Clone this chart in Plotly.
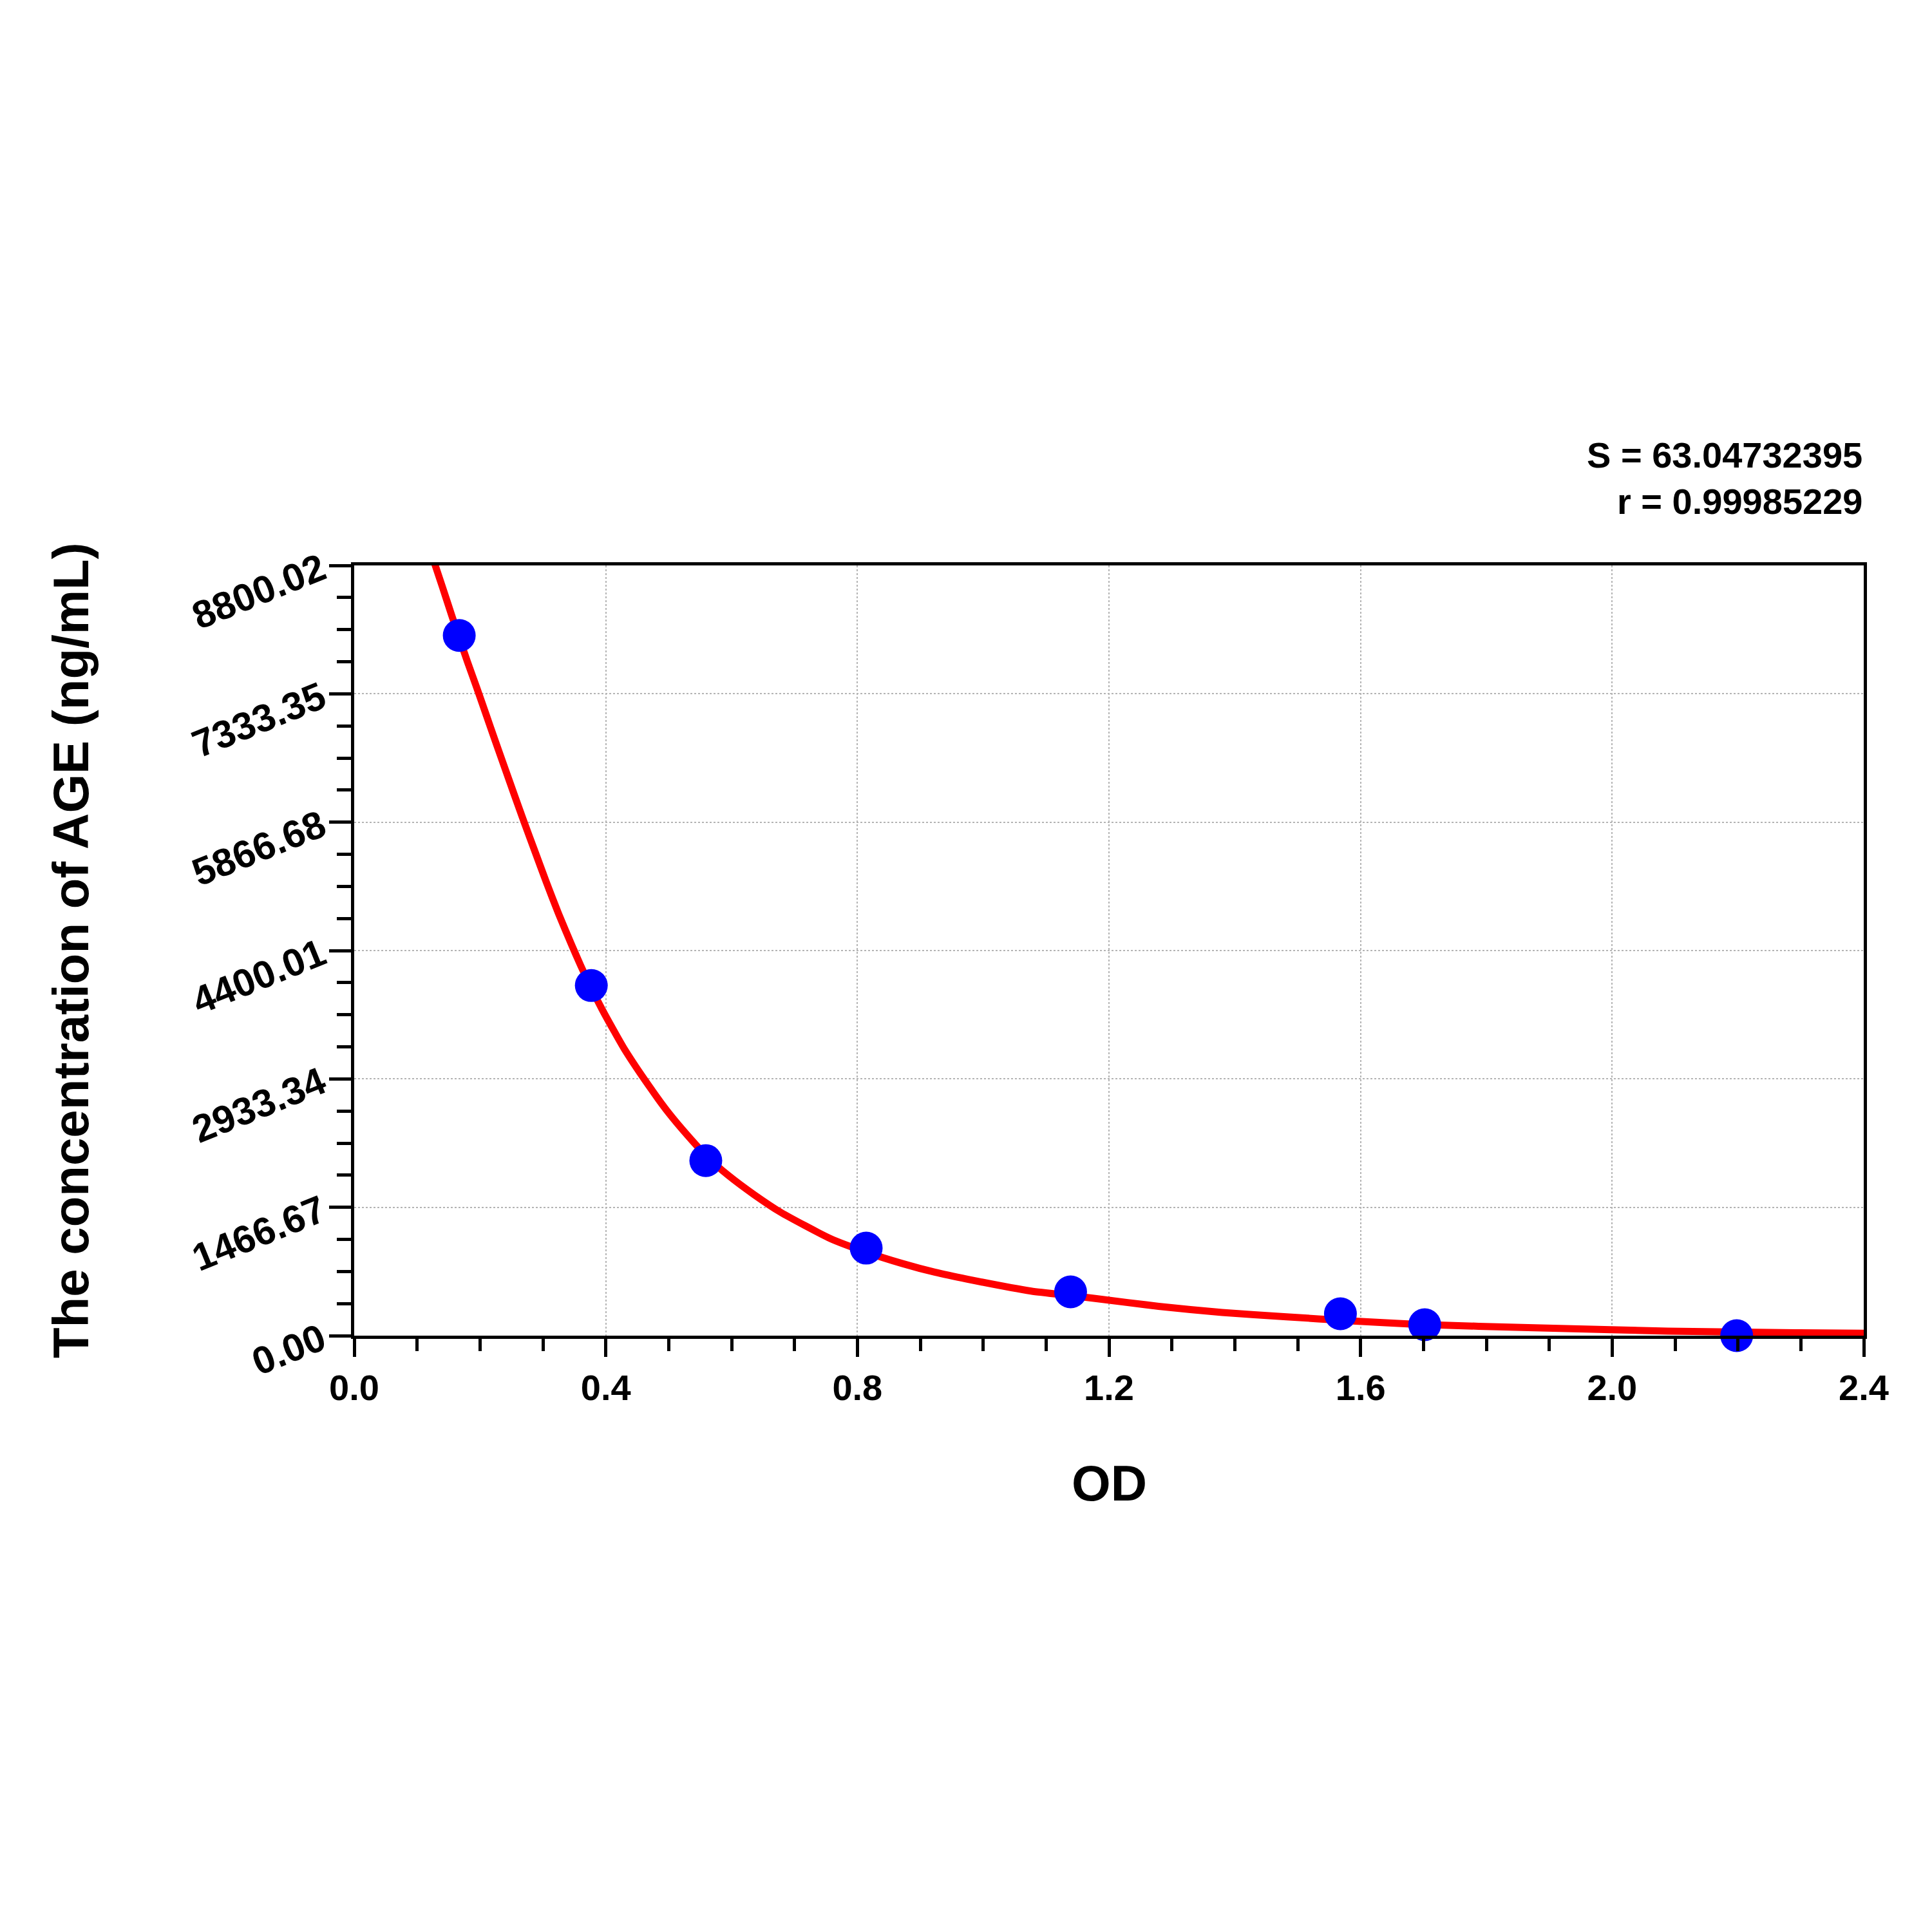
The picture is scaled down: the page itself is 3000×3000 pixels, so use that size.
import plotly.graph_objects as go

# standards (OD vs concentration)
od_points = [0.167, 0.377, 0.559, 0.814, 1.139, 1.568, 1.702, 2.198]
conc_points = [8000, 4000, 2000, 1000, 500, 250, 125, 0]

# fitted curve
curve_od = [0.124, 0.140, 0.155, 0.167, 0.180, 0.195, 0.210, 0.225, 0.240, 0.255,
            0.270, 0.288, 0.305, 0.325, 0.346, 0.360, 0.377, 0.394, 0.414, 0.430,
            0.469, 0.500, 0.531, 0.563, 0.595, 0.636, 0.678, 0.757, 0.814, 0.871,
            0.923, 0.975, 1.076, 1.139, 1.178, 1.279, 1.380, 1.482, 1.583, 1.685,
            1.886, 2.089, 2.292, 2.402]
curve_conc = [8905, 8560, 8230, 7975, 7700, 7400, 7090, 6780, 6475, 6170,
              5870, 5520, 5190, 4820, 4460, 4230, 3970, 3730, 3470, 3270,
              2850, 2545, 2280, 2030, 1830, 1610, 1410, 1110, 955, 825,
              725, 645, 510, 458, 425, 335, 265, 215, 170, 130,
              88, 52, 33, 27]

fit_text = ['S = 63.04732395', 'r = 0.99985229']

font_family = 'Arial, Liberation Sans, sans-serif'

curve = go.Scatter(
    x=curve_od, y=curve_conc,
    mode='lines',
    line=dict(color='#ff0000', width=11, shape='spline', smoothing=0.6),
    showlegend=False
)

points = go.Scatter(
    x=od_points, y=conc_points,
    mode='markers',
    marker=dict(color='#0000ff', size=51),
    cliponaxis=False,
    showlegend=False
)

fig = go.Figure(data=[curve, points])

fig.update_layout(
    width=3000, height=3000,
    paper_bgcolor='white', plot_bgcolor='white',
    margin=dict(l=542, r=114, t=870, b=934),
    font=dict(family=font_family, color='black', size=54, weight='bold'),
)

fig.update_xaxes(
    range=[0, 2.4], tick0=0, dtick=0.4, tickformat='.1f',
    showline=True, linecolor='black', linewidth=5, mirror=True,
    ticks='outside', ticklen=28, tickwidth=5, tickcolor='black',
    ticklabelstandoff=0,
    showgrid=True, gridcolor='#b4b4b4', gridwidth=2, griddash='dot',
    zeroline=False,
    tickfont=dict(family=font_family, size=56, weight='bold'),
    minor=dict(dtick=0.1, ticks='outside', ticklen=19, tickwidth=5,
               tickcolor='black', showgrid=False),
)

fig.update_yaxes(
    range=[0, 8800.02], tick0=0, dtick=1466.67, tickformat='.2f',
    showline=True, linecolor='black', linewidth=5, mirror=True,
    ticks='outside', ticklen=34, tickwidth=5, tickcolor='black',
    tickangle=-22,
    showgrid=True, gridcolor='#b4b4b4', gridwidth=2, griddash='dot',
    zeroline=False,
    tickfont=dict(family=font_family, size=60, weight='bold'),
    minor=dict(dtick=366.6675, ticks='outside', ticklen=22, tickwidth=5,
               tickcolor='black', showgrid=False),
)

# axis titles
fig.add_annotation(
    text='The concentration of AGE (ng/mL)',
    xref='paper', yref='paper', x=-0.1877, y=0.5,
    textangle=-90, showarrow=False,
    font=dict(family=font_family, size=78, weight='bold'),
    xanchor='center', yanchor='middle'
)
fig.add_annotation(
    text='OD',
    xref='paper', yref='paper', x=0.5, y=-0.1915,
    showarrow=False,
    font=dict(family=font_family, size=78, weight='bold'),
    xanchor='center', yanchor='middle'
)

# fit statistics
fig.add_annotation(
    text=fit_text[0], xref='paper', yref='paper', x=1.0, y=1.1438,
    showarrow=False, xanchor='right', yanchor='middle',
    font=dict(family=font_family, size=56, weight='bold')
)
fig.add_annotation(
    text=fit_text[1], xref='paper', yref='paper', x=1.0, y=1.0828,
    showarrow=False, xanchor='right', yanchor='middle',
    font=dict(family=font_family, size=56, weight='bold')
)

fig.write_html("out.html")
